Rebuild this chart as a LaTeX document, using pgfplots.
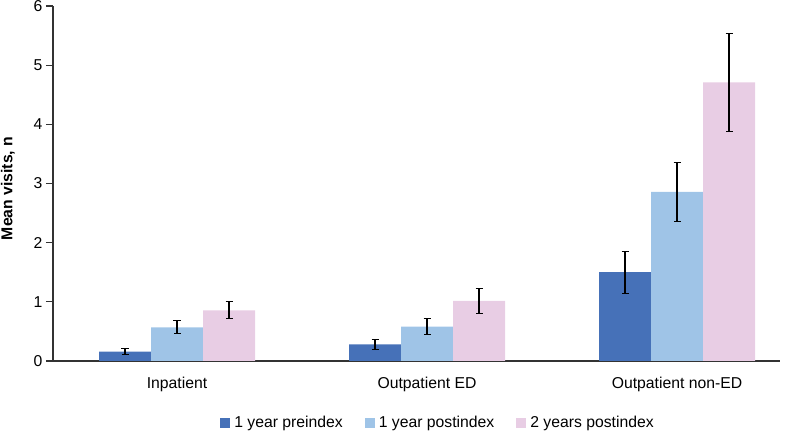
\documentclass[border=0pt]{standalone}
\usepackage{fontspec}
\setmainfont{Liberation Sans}
\usepackage{pgfplots}
\pgfplotsset{compat=1.18}
\definecolor{cdark}{HTML}{4671B8}
\definecolor{clight}{HTML}{9FC4E7}
\definecolor{cpink}{HTML}{E8CDE4}
\definecolor{caxis}{HTML}{333333}
\begin{document}
\begin{tikzpicture}
\begin{axis}[
  scale only axis,
  width=727bp, height=355bp,
  xmin=-0.496, xmax=2.412,
  ymin=0, ymax=6,
  ytick={0,1,2,3,4,5,6},
  xtick={0,1,2},
  xticklabels={Inpatient, Outpatient ED, Outpatient non-ED},
  axis x line*=bottom,
  axis y line*=left,
  axis line style={caxis, line width=1.1pt, -},
  y tick style={caxis, line width=1.1pt},
  x tick style={draw=none},
  tick align=outside,
  major tick length=7bp,
  /pgf/number format/assume math mode=true,
  tick label style={font=\fontsize{15.8}{19}\selectfont, text=black},
  yticklabel style={xshift=0bp},
  xticklabel style={yshift=-6bp},
  ylabel={Mean visits, n},
  every axis y label/.style={at={(rel axis cs:-0.0619,0.486)}, rotate=90, anchor=center, font=\fontsize{15.8}{19}\selectfont\bfseries},
  ybar=0pt, bar width=52bp,
  legend columns=3,
  legend style={draw=none, fill=none, at={(rel axis cs:0.5296,-0.1746)}, anchor=center,
    font=\fontsize{15.8}{19}\selectfont, inner sep=0pt,
    /tikz/every odd column/.append style={column sep=2bp},
    /tikz/every even column/.append style={column sep=20bp}},
  legend image code/.code={\path[#1,draw=none] (0bp,-5bp) rectangle (10bp,5bp);},
  error bars/y dir=both,
  error bars/y explicit,
  error bars/error bar style={black, line width=1.1pt},
  error bars/error mark options={rotate=90, black, mark size=3.5bp, line width=1.1pt},
]
\addplot[fill=cdark, draw=none] coordinates {
  (0,0.157) +- (0,0.053)
  (1,0.28) +- (0,0.085)
  (2,1.503) +- (0,0.355)
};
\addplot[fill=clight, draw=none] coordinates {
  (0,0.57) +- (0,0.107)
  (1,0.58) +- (0,0.137)
  (2,2.86) +- (0,0.497)
};
\addplot[fill=cpink, draw=none] coordinates {
  (0,0.856) +- (0,0.143)
  (1,1.014) +- (0,0.207)
  (2,4.71) +- (0,0.825)
};
\legend{1 year preindex, 1 year postindex, 2 years postindex}
\coordinate (bl) at (rel axis cs:0,0);
\coordinate (tr) at (rel axis cs:1,1);
\end{axis}
\pgfresetboundingbox
\path ([xshift=-53bp,yshift=-70bp]bl) rectangle ([xshift=7bp,yshift=6bp]tr);
\end{tikzpicture}
\end{document}
